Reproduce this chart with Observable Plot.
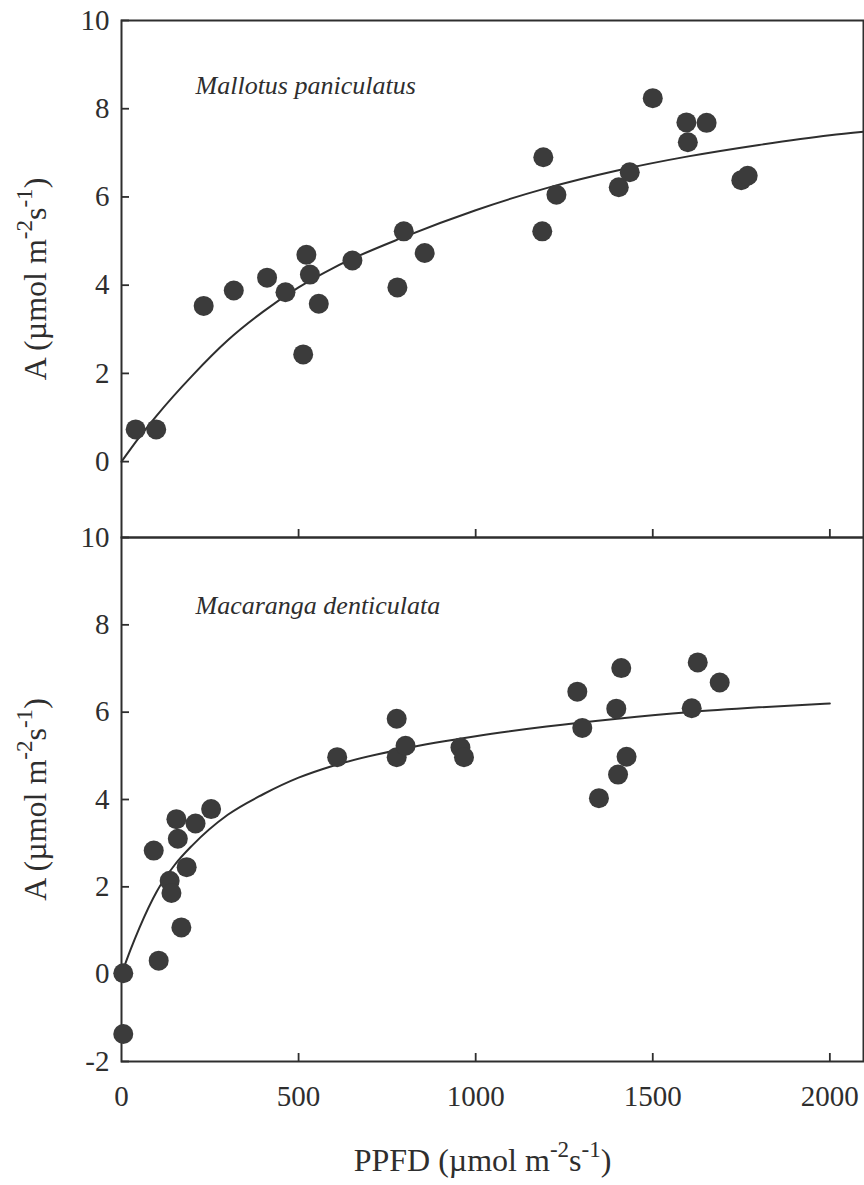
<!DOCTYPE html>
<html>
<head>
<meta charset="utf-8">
<script src="https://cdn.jsdelivr.net/npm/d3@7"></script>
<script src="https://cdn.jsdelivr.net/npm/@observablehq/plot@0.6"></script>
<style>
  body { margin: 0; background: #fff; }
  #chart svg { display: block; }
</style>
</head>
<body>
<div id="chart"></div>
<script>
// ---- Data ----
const xTicks = [0, 500, 1000, 1500, 2000];
const innerXTicks = [500, 1000, 1500, 2000];
const topYTicks = [0, 2, 4, 6, 8, 10];
const bottomYTicks = [-2, 0, 2, 4, 6, 8, 10];

const topSpecies = "Mallotus paniculatus";
const bottomSpecies = "Macaranga denticulata";
const yLabelParts = [["A (µmol m", 0], ["-2", 1], ["s", 0], ["-1", 1], [")", 0]];
const xLabelParts = [["PPFD (µmol m", 0], ["-2", 1], ["s", 0], ["-1", 1], [")", 0]];

// Mallotus paniculatus measurements
const mallotusPPFD = [40, 98, 232, 317, 411, 463, 513, 522, 532, 557, 652, 779, 797, 856, 1188, 1191, 1228, 1404, 1435, 1500, 1595, 1599, 1652, 1750, 1768];
const mallotusA    = [0.73, 0.73, 3.53, 3.88, 4.17, 3.84, 2.43, 4.69, 4.24, 3.58, 4.56, 3.95, 5.22, 4.73, 5.22, 6.90, 6.05, 6.22, 6.56, 8.24, 7.69, 7.24, 7.68, 6.38, 6.48];
// Mallotus fitted curve
const mallotusFitPPFD = [0, 50, 100, 200, 300, 400, 500, 600, 800, 1000, 1200, 1400, 1600, 1800, 2000, 2095];
const mallotusFitA    = [0, 0.55, 1.05, 1.95, 2.75, 3.4, 3.95, 4.4, 5.1, 5.7, 6.2, 6.6, 6.92, 7.18, 7.4, 7.48];

// Macaranga denticulata measurements
const macarangaPPFD = [5, 5, 91, 105, 136, 141, 155, 159, 169, 184, 209, 253, 609, 777, 777, 802, 957, 967, 1287, 1301, 1348, 1397, 1402, 1411, 1426, 1610, 1627, 1689];
const macarangaA    = [0.02, -1.37, 2.83, 0.31, 2.14, 1.86, 3.55, 3.10, 1.07, 2.45, 3.45, 3.78, 4.97, 5.85, 4.97, 5.23, 5.19, 4.97, 6.47, 5.64, 4.03, 6.08, 4.57, 7.01, 4.98, 6.09, 7.14, 6.68];
// Macaranga fitted curve
const macarangaFitPPFD = [0, 25, 50, 100, 150, 200, 300, 400, 500, 600, 800, 1000, 1200, 1400, 1600, 1800, 2000];
const macarangaFitA    = [0, 0.55, 1.05, 1.9, 2.5, 2.95, 3.65, 4.12, 4.5, 4.78, 5.17, 5.45, 5.67, 5.85, 6.0, 6.11, 6.2];

// ---- Build tables ----
const zip = (xs, ys) => xs.map((x, i) => ({x, y: ys[i]}));
const mallotusPts = zip(mallotusPPFD, mallotusA);
const mallotusFit = zip(mallotusFitPPFD, mallotusFitA);
const macarangaPts = zip(macarangaPPFD, macarangaA);
const macarangaFit = zip(macarangaFitPPFD, macarangaFitA);

const INK = "#2e2e2e";
const DOT = "#3b3b3b";
const FONT = "'Liberation Serif', 'Times New Roman', serif";
const xDomain = [0, 2095];
const W = 864, ML = 121, MR = 1;
const frameW = W - ML - MR;
const TICK = 8;
const LABEL_FS = 32;

function applySuperscripts(svg, key, parts, fs) {
  const t = d3.select(svg).selectAll("text").filter(function () { return this.textContent === key; });
  t.text(null).attr("font-size", fs);
  let shift = 0;
  for (const [s, sup] of parts) {
    const target = sup ? -0.42 * fs : 0;
    const ts = t.append("tspan").text(s);
    if (target - shift !== 0) ts.attr("dy", target - shift);
    if (sup) ts.attr("font-size", 0.72 * fs);
    shift = target;
  }
}

const common = {
  width: W,
  marginLeft: ML,
  marginRight: MR,
  style: {fontFamily: FONT, fontSize: "29px", color: INK, background: "transparent", overflow: "visible"}
};

const yLabelMark = () => Plot.text(["ylabel"], {frameAnchor: "left", dx: -86, rotate: -90, textAnchor: "middle", lineAnchor: "middle", text: d => d, fill: INK});

// ---- Top panel ----
const topH = 537, topMT = 20, topMB = 0;
const topFrameH = topH - topMT - topMB;
const topPlot = Plot.plot({
  ...common,
  height: topH,
  marginTop: topMT,
  marginBottom: topMB,
  x: {domain: xDomain, axis: null},
  y: {domain: [-1.72, 10]},
  marks: [
    Plot.frame({stroke: INK, strokeWidth: 2}),
    Plot.axisY({ticks: topYTicks, tickSize: 0, tickPadding: 12, tickFormat: d => String(d), label: null}),
    Plot.tickY(topYTicks, {y: d => d, insetRight: frameW - TICK, stroke: INK, strokeWidth: 1.8}),
    Plot.tickX(innerXTicks, {x: d => d, insetTop: topFrameH - TICK, stroke: INK, strokeWidth: 1.8}),
    Plot.line(mallotusFit, {x: "x", y: "y", stroke: INK, strokeWidth: 2, curve: "monotone-x"}),
    Plot.dot(mallotusPts, {x: "x", y: "y", r: 10, fill: DOT, stroke: "none"}),
    Plot.text([topSpecies], {x: 209, y: 8.53, text: d => d, textAnchor: "start", fontStyle: "italic", fontSize: 26, fill: INK}),
    yLabelMark()
  ]
});
applySuperscripts(topPlot, "ylabel", yLabelParts, LABEL_FS);

// ---- Bottom panel ----
const botH = 668, botMT = 20, botMB = 124;
const botFrameH = botH - botMT - botMB;
const bottomPlot = Plot.plot({
  ...common,
  height: botH,
  marginTop: botMT,
  marginBottom: botMB,
  x: {domain: xDomain},
  y: {domain: [-2, 10]},
  marks: [
    Plot.frame({stroke: INK, strokeWidth: 2}),
    Plot.axisY({ticks: bottomYTicks, tickSize: 0, tickPadding: 12, tickFormat: d => String(d), label: null}),
    Plot.axisX({ticks: xTicks, tickSize: 0, tickPadding: 24, tickFormat: d => String(d), label: null}),
    Plot.tickY(bottomYTicks, {y: d => d, insetRight: frameW - TICK, stroke: INK, strokeWidth: 1.8}),
    Plot.tickX(innerXTicks, {x: d => d, insetTop: botFrameH - TICK, stroke: INK, strokeWidth: 1.8}),
    Plot.line(macarangaFit, {x: "x", y: "y", stroke: INK, strokeWidth: 2, curve: "monotone-x"}),
    Plot.dot(macarangaPts, {x: "x", y: "y", r: 10, fill: DOT, stroke: "none"}),
    Plot.text([bottomSpecies], {x: 209, y: 8.45, text: d => d, textAnchor: "start", fontStyle: "italic", fontSize: 26, fill: INK}),
    yLabelMark(),
    Plot.text(["xlabel"], {frameAnchor: "bottom", dx: -10, dy: 99, textAnchor: "middle", lineAnchor: "middle", text: d => d, fill: INK})
  ]
});
applySuperscripts(bottomPlot, "ylabel", yLabelParts, LABEL_FS);
applySuperscripts(bottomPlot, "xlabel", xLabelParts, LABEL_FS);
bottomPlot.style.marginTop = "-20px";

document.getElementById("chart").append(topPlot, bottomPlot);
</script>
</body>
</html>
